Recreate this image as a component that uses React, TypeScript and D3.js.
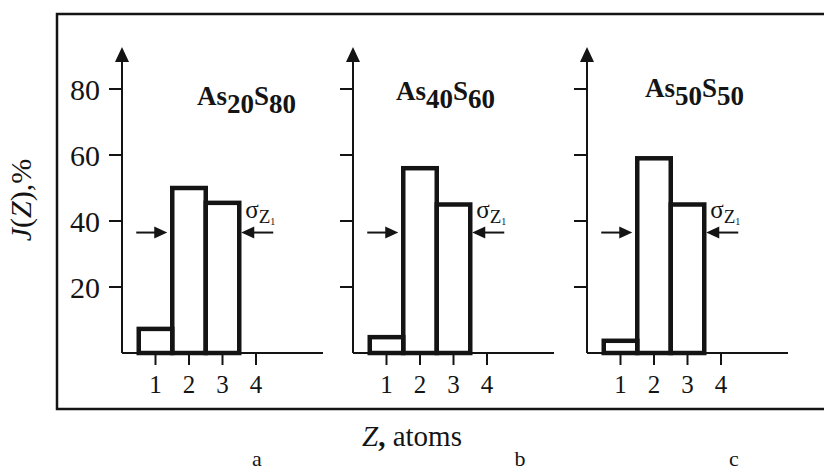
import React from "react";
import * as d3 from "d3";

// ---- data ----
const zTicks = [1, 2, 3, 4];
const yTicks = [20, 40, 60, 80];
const panelLetters = ["a", "b", "c"];
const asIndex = ["20", "40", "50"];
const sIndex = ["80", "60", "50"];
const seriesA = [7.3, 50, 45.5];
const seriesB = [4.8, 56, 45];
const seriesC = [3.7, 59, 45];
const series = [seriesA, seriesB, seriesC];

// ---- layout ----
const W = 824;
const H = 471;
const axisLeft = [122, 353, 587];
const axisSpan = 201;
const titlePos = [
  [197, 105],
  [396, 100],
  [645, 97],
];
const letterX = [257, 520, 734];
const INK = "#141414";
const FONT = "Liberation Serif, DejaVu Serif, serif";
const fs = (size: number, extra: any = {}) => ({ fontFamily: FONT, fontSize: size, ...extra });

const yScale = d3.scaleLinear().domain([0, 80]).range([353, 89]);

function Panel({ idx }: { idx: number }) {
  const x0 = axisLeft[idx];
  const xs = d3.scaleLinear().domain([0, 6]).range([x0, x0 + axisSpan]);
  const vals = series[idx];
  const base = yScale(0);
  const tipY = yScale(80) - 42;
  const arrowY = yScale(36.5);
  const lTip = xs(1.5) - 5;
  const rTip = xs(3.5) + 2;
  const [tx, ty] = titlePos[idx];
  return (
    <g>
      {/* y axis */}
      <line x1={x0} x2={x0} y1={tipY + 12} y2={base} stroke={INK} strokeWidth={2} />
      <path d={`M${x0},${tipY} L${x0 - 7},${tipY + 15} L${x0 + 7},${tipY + 15} Z`} fill={INK} />
      {yTicks.map((t) => (
        <g key={t}>
          <line x1={x0 - 13} x2={x0} y1={yScale(t)} y2={yScale(t)} stroke={INK} strokeWidth={2} />
          {idx === 0 && (
            <text x={x0 - 22} y={yScale(t)} dy="0.35em" textAnchor="end" style={fs(30)} fill={INK}>
              {t}
            </text>
          )}
        </g>
      ))}
      {/* x axis */}
      <line x1={x0} x2={xs(6)} y1={base} y2={base} stroke={INK} strokeWidth={2} />
      {zTicks.map((z) => (
        <g key={z}>
          <line x1={xs(z)} x2={xs(z)} y1={base} y2={base + 12} stroke={INK} strokeWidth={2} />
          <text x={xs(z)} y={393} textAnchor="middle" style={fs(25)} fill={INK}>
            {z}
          </text>
        </g>
      ))}
      {/* bars */}
      {vals.map((v, i) => {
        const z = i + 1;
        return (
          <rect
            key={i}
            x={xs(z - 0.5)}
            y={yScale(v)}
            width={xs(1) - xs(0)}
            height={base - yScale(v)}
            fill="none"
            stroke={INK}
            strokeWidth={4.5}
          />
        );
      })}
      {/* arrows */}
      <line x1={lTip - 31} x2={lTip - 10} y1={arrowY} y2={arrowY} stroke={INK} strokeWidth={2} />
      <path d={`M${lTip},${arrowY} L${lTip - 13},${arrowY - 6} L${lTip - 13},${arrowY + 6} Z`} fill={INK} />
      <line x1={rTip + 10} x2={rTip + 32} y1={arrowY} y2={arrowY} stroke={INK} strokeWidth={2} />
      <path d={`M${rTip},${arrowY} L${rTip + 13},${arrowY - 6} L${rTip + 13},${arrowY + 6} Z`} fill={INK} />
      {/* sigma label */}
      <text x={xs(3.5) + 6} y={218} style={fs(25)} fill={INK}>
        σ
        <tspan style={{ fontSize: 19 }} dy={5}>Z</tspan>
        <tspan style={{ fontSize: 10 }} dy={2}>1</tspan>
      </text>
      {/* title */}
      <text x={tx} y={ty} style={fs(27, { fontWeight: "bold" })} fill={INK}>
        As
        <tspan dy={8}>{asIndex[idx]}</tspan>
        <tspan dy={-8}>S</tspan>
        <tspan dy={8}>{sIndex[idx]}</tspan>
      </text>
      {/* panel letter */}
      <text x={letterX[idx]} y={466} textAnchor="middle" style={fs(22)} fill={INK}>
        {panelLetters[idx]}
      </text>
    </g>
  );
}

export default function App() {
  return (
    <svg
      width={W}
      height={H}
      viewBox={`0 0 ${W} ${H}`}
      style={{ position: "absolute", left: 0, top: 0, background: "#fff" }}
    >
      <rect x={0} y={0} width={W} height={H} fill="#fff" />
      {/* frame */}
      <path d={`M${W},14 L57,14 L57,409 L${W},409`} fill="none" stroke={INK} strokeWidth={2.5} />
      {[0, 1, 2].map((i) => (
        <Panel key={i} idx={i} />
      ))}
      {/* axis titles */}
      <text transform="translate(31,200) rotate(-90)" textAnchor="middle" style={fs(30)} fill={INK}>
        <tspan style={{ fontStyle: "italic" }}>J</tspan>(<tspan style={{ fontStyle: "italic" }}>Z</tspan>),%
      </text>
      <text x={362} y={446} style={fs(29)} fill={INK}>
        <tspan style={{ fontStyle: "italic" }}>Z</tspan>
        <tspan style={{ fontWeight: "bold" }}>,</tspan> atoms
      </text>
    </svg>
  );
}
